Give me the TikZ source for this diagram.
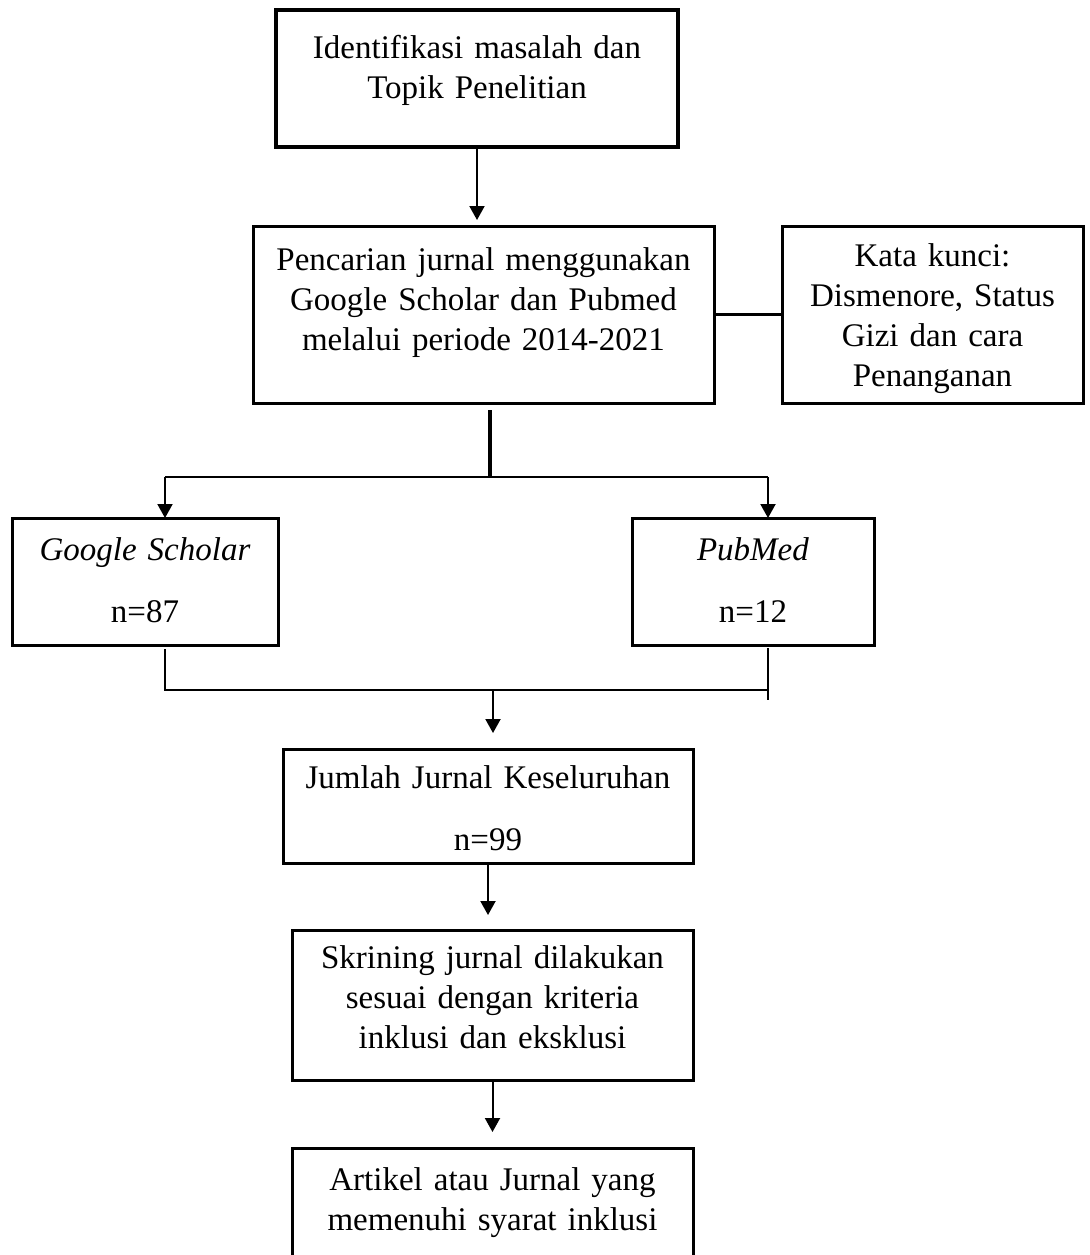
\documentclass[tikz,border=0pt]{standalone}
\usepackage{fontspec}
\setmainfont{Liberation Serif}
\usetikzlibrary{arrows.meta}

\tikzset{
  kotak/.style={draw, line width=1.5pt, inner sep=0pt, outer sep=0pt, align=center,
    anchor=north west, font=\fontsize{16.5}{20}\selectfont},
  garis/.style={line width=1pt},
  panah/.style={line width=1pt, -{Triangle[length=7pt,width=7.5pt]}}
}

\begin{document}
\begin{tikzpicture}[x=0.5pt, y=-0.5pt]
\useasboundingbox (0,0) rectangle (1090,1255);

% Draw the boxes (top left corner at the given point)
\node[kotak, line width=1.7pt, text width=201pt, text height=24pt, text depth=44.5pt] (idn) at (276,10)
  {Identifikasi masalah dan\\ Topik Penelitian};
\node[kotak, text width=230.5pt, text height=22pt, text depth=66.5pt] (cari) at (253,226)
  {Pencarian jurnal menggunakan\\ Google Scholar dan Pubmed\\ melalui periode 2014-2021};
\node[kotak, text width=150.5pt, text height=20pt, text depth=68.5pt] (kata) at (782,226)
  {Kata kunci:\\ Dismenore, Status\\ Gizi dan cara\\ Penanganan};
\node[kotak, text width=133pt, text height=21pt, text depth=42.5pt] (google) at (12,518)
  {\textit{Google Scholar}\\[11pt] n=87};
\node[kotak, text width=121pt, text height=21pt, text depth=42.5pt] (pubmed) at (632,518)
  {\textit{PubMed}\\[11pt] n=12};
\node[kotak, text width=205pt, text height=19.5pt, text depth=37.5pt] (jumlah) at (283,749)
  {Jumlah Jurnal Keseluruhan\\[11pt] n=99};
\node[kotak, text width=200.5pt, text height=19pt, text depth=56pt] (skrining) at (292,930)
  {Skrining jurnal dilakukan\\ sesuai dengan kriteria\\ inklusi dan eksklusi};
\node[kotak, text width=200.5pt, text height=21pt, text depth=42.5pt] (artikel) at (292,1148)
  {Artikel atau Jurnal yang\\ memenuhi syarat inklusi};

% Branch points
\coordinate (cabang) at (490,477);
\coordinate (kiri) at (165,477);
\coordinate (kanan) at (768,477);
\coordinate (gabung) at (493,690);

% Connectors
\draw[panah, shorten >=3pt] (idn.south) -- (idn.south |- cari.north);
\draw[line width=1.5pt] (cari.east) -- (kata.west);
\draw[line width=1.6pt, shorten <=3.5pt] (cabang |- cari.south) -- (cabang);
\draw[garis, line width=1.2pt] (kiri) -- (kanan);
\draw[panah] (kiri) -- (kiri |- google.north);
\draw[panah] (kanan) -- (kanan |- pubmed.north);

\draw[garis, shorten <=2pt] (kiri |- google.south) -- (kiri |- gabung) -- (kanan |- gabung);
\draw[garis, shorten <=1.5pt, shorten >=-5pt] (kanan |- pubmed.south) -- (kanan |- gabung);
\draw[panah, shorten >=8pt] (gabung) -- (gabung |- jumlah.north);
\draw[panah, shorten >=7.5pt] (jumlah.south) -- (jumlah.south |- skrining.north);
\draw[panah, shorten >=8pt] (skrining.south) -- (skrining.south |- artikel.north);
\end{tikzpicture}
\end{document}
